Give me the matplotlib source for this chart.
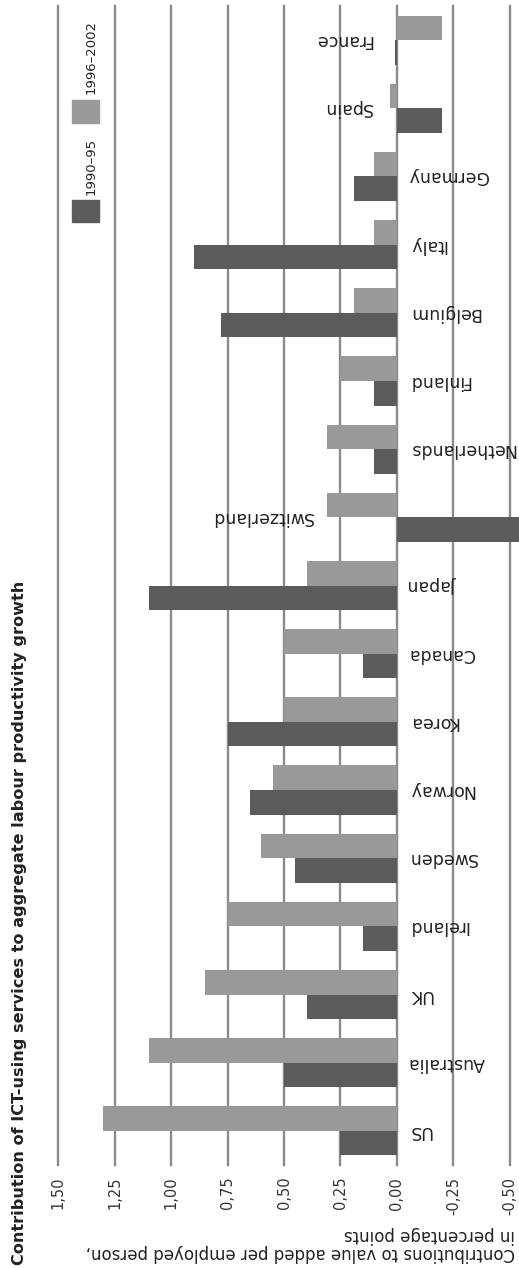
import matplotlib.pyplot as plt
import numpy as np
from matplotlib.patches import Rectangle

# Contributions to value added per employed person, percentage points
countries = ["US", "Australia", "UK", "Ireland", "Sweden", "Norway", "Korea", "Canada",
             "Japan", "Switzerland", "Netherlands", "Finland", "Belgium", "Italy",
             "Germany", "Spain", "France"]
p1990_95 = [0.25, 0.50, 0.40, 0.15, 0.45, 0.65, 0.75, 0.15,
            1.10, -0.55, 0.10, 0.10, 0.78, 0.90, 0.19, -0.20, 0.01]
p1996_2002 = [1.30, 1.10, 0.85, 0.75, 0.60, 0.55, 0.50, 0.50,
              0.40, 0.31, 0.31, 0.25, 0.19, 0.10, 0.10, 0.03, -0.20]
ticks = [1.50, 1.25, 1.00, 0.75, 0.50, 0.25, 0.00, -0.25, -0.50]
tick_labels = ["1,50", "1,25", "1,00", "0,75", "0,50", "0,25", "0,00", "-0,25", "-0,50"]

DARK = "#5b5b5b"
LIGHT = "#999999"
GRID = "#8a8a8a"
TXT = "#222222"

W, H = 519, 1268
fig = plt.figure(figsize=(W / 100, H / 100), dpi=100)
ax = fig.add_axes([58.3 / W, 103 / H, (509.7 - 58.3) / W, 1159 / H])

y = np.arange(len(countries))
bh = 0.36
ax.barh(y + bh / 2, p1996_2002, height=bh, color=LIGHT, zorder=3)
ax.barh(y - bh / 2, p1990_95, height=bh, color=DARK, zorder=3, clip_on=False)

ax.set_xlim(1.5, -0.5)
ax.set_ylim(-0.5, len(countries) - 0.5)
ax.set_xticks(ticks)
ax.set_xticklabels(tick_labels)
ax.set_yticks([])
ax.grid(axis="x", color=GRID, linewidth=1.7, zorder=1)
for gl in ax.get_xgridlines():
    gl.set_clip_on(False)
for s in ax.spines.values():
    s.set_visible(False)
ax.tick_params(axis="x", length=0, pad=8.5, labelsize=10.5, labelrotation=90,
               labelcolor="#333333")

# country labels, upside down next to the zero line
for i, name in enumerate(countries):
    a, b = p1990_95[i], p1996_2002[i]
    if min(a, b) < 0:
        ax.text(max(a, b, 0.05) + 0.06, i, name, rotation=180, ha="right",
                va="center", fontsize=12.5, color=TXT)
    else:
        ax.text(-0.05, i, name, rotation=180, ha="left", va="center",
                fontsize=12.5, color=TXT)

# title, reading upward on the left
fig.text(20 / W, 1 - 1265 / H,
         "Contribution of ICT-using services to aggregate labour productivity growth",
         rotation=90, ha="center", va="bottom", fontsize=11.6, fontweight="bold",
         color=TXT)

# value axis label, upside down under the ticks
fig.text(515 / W, 1 - 1244 / H,
         "Contributions to value added per employed person,\nin percentage points",
         rotation=180, ha="right", va="center", multialignment="left",
         fontsize=12, color=TXT, linespacing=0.95)

# legend
fig.add_artist(Rectangle((72 / W, 1 - 222 / H), 27 / W, 22 / H,
                         transform=fig.transFigure, color=DARK))
fig.add_artist(Rectangle((72 / W, 1 - 123 / H), 27 / W, 23 / H,
                         transform=fig.transFigure, color=LIGHT))
fig.text(91 / W, 1 - 195 / H, "1990\u201395", rotation=90, ha="center",
         va="bottom", fontsize=9.5, color=TXT)
fig.text(91 / W, 1 - 94 / H, "1996\u20132002", rotation=90, ha="center",
         va="bottom", fontsize=9.5, color=TXT)

fig.savefig("out.png", dpi=100, facecolor="white")
